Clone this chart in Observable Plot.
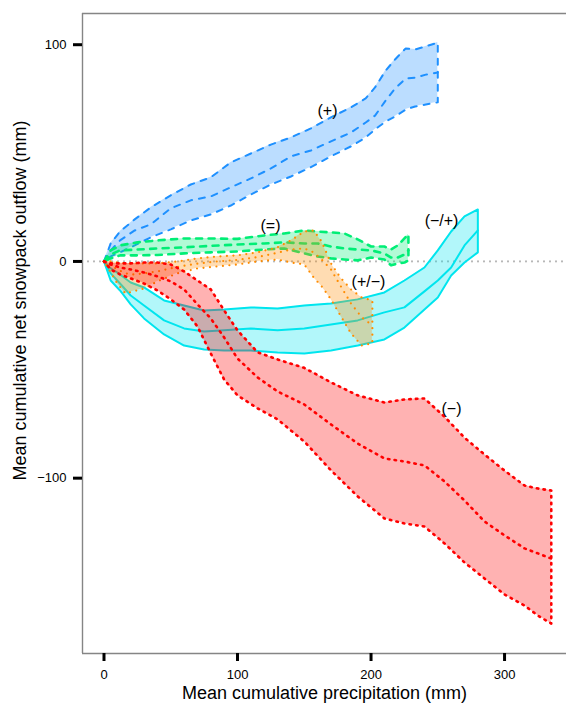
<!DOCTYPE html>
<html>
<head>
<meta charset="utf-8">
<script src="https://cdn.jsdelivr.net/npm/d3@7"></script>
<script src="https://cdn.jsdelivr.net/npm/@observablehq/plot@0.6"></script>
<style>
  html, body { margin: 0; padding: 0; background: #fff; }
</style>
</head>
<body>
<div id="chart"></div>
<script>
// Axis extents and ticks
const xDomain = [-16.1, 346.4];
const yDomain = [-180.9, 114.4];
const xTicks = [0, 100, 200, 300];
const yTicks = [-100, 0, 100];
const xTitle = "Mean cumulative precipitation (mm)";
const yTitle = "Mean cumulative net snowpack outflow (mm)";

// (+) group: cumulative precipitation, lower / mean / upper outflow
const plusX   = [0, 5, 12, 23, 35, 50, 65, 80, 95, 110, 125, 140, 155, 170, 185, 196, 203, 211, 218, 226, 233, 241, 250];
const plusHi  = [0, 8.3, 13.8, 19.4, 24.9, 30.5, 35.5, 38.8, 45.7, 49.8, 53.9, 57.2, 61.4, 66.5, 71.1, 75.2, 80.3, 88.1, 93.2, 98.3, 97.8, 99.2, 101.0];
const plusMid = [0, 5.1, 9.7, 14.3, 17.1, 24.5, 28.2, 30.0, 34.2, 38.3, 42.9, 48.5, 51.2, 55.4, 59.5, 64.1, 67.3, 74.3, 79.8, 84.4, 84.8, 86.2, 87.2];
const plusLo  = [0, 2.3, 4.2, 7.4, 11.1, 14.8, 18.9, 21.7, 25.8, 30.9, 35.5, 39.2, 43.5, 48.5, 53.1, 57.2, 60.9, 64.6, 66.9, 70.1, 71.5, 72.4, 73.4];

// (=) group
const eqX   = [0, 5, 12, 25, 40, 60, 80, 100, 120, 135, 150, 160, 170, 180, 190, 200, 210, 215, 220, 225, 228];
const eqHi  = [0, 5.1, 7.4, 8.8, 9.7, 10.6, 10.6, 10.4, 12.0, 12.9, 14.3, 13.8, 13.4, 12.9, 10.2, 6.9, 6.9, 5.5, 7.4, 10.6, 12.5];
const eqMid = [0, 3.2, 5.1, 5.5, 6.0, 6.5, 7.2, 7.8, 8.3, 8.8, 8.3, 8.3, 6.9, 6.0, 5.5, 5.1, 3.7, 1.8, 1.8, 3.2, 5.1];
const eqLo  = [0, 1.4, 2.8, 2.8, 3.0, 3.7, 4.2, 4.6, 5.5, 6.0, 3.7, 2.3, 1.4, 0.9, 0.5, 1.8, 0.9, -1.8, -0.9, -0.5, 0.5];

// (+/−) group
const pmX   = [0, 5, 10, 16, 22, 30, 40, 55, 70, 85, 100, 115, 130, 140, 150, 157, 163, 170, 177, 185, 193, 201];
const pmHi  = [0, 0, -0.5, -0.9, -0.9, -0.9, -0.9, 0, 1.4, 2.3, 2.8, 4.2, 6.5, 9.7, 13.8, 14.3, 9.2, -0.9, -7.4, -12.9, -16.6, -18.0];
const pmMid = [0, -1.8, -3.7, -5.5, -6.0, -5.5, -4.6, -2.5, -1.0, 0, 0.7, 2.0, 4.0, 5.5, 6.0, 4.2, 0.9, -3.7, -11.1, -19.4, -25.8, -29.5];
const pmLo  = [0, -5.1, -10.2, -14.8, -13.8, -12.5, -9.2, -5.5, -3.2, -2.3, -1.4, 0, 0.9, -0.5, -1.4, -7.4, -11.5, -17.5, -24.9, -33.2, -38.8, -37.8];

// (−/+) group
const mpX   = [0, 5, 12, 20, 30, 45, 60, 75, 90, 110, 130, 150, 170, 190, 210, 225, 240, 250, 260, 270, 280];
const mpHi  = [0, -3.2, -6.0, -9.7, -12.0, -18.0, -20.3, -22.6, -22.2, -21.2, -21.7, -20.3, -19.4, -17.5, -14.3, -8.8, -2.8, 5.1, 13.8, 20.8, 24.0];
const mpMid = [0, -5.5, -10.2, -15.7, -20.3, -27.2, -30.9, -32.3, -31.8, -30.9, -31.8, -30.9, -29.1, -27.2, -23.5, -21.2, -13.8, -8.8, -2.8, 7.4, 14.3];
const mpLo  = [0, -8.8, -13.4, -19.8, -26.3, -33.7, -38.8, -40.6, -41.1, -41.1, -42.0, -42.5, -41.1, -38.8, -36.0, -30.5, -22.2, -16.6, -6.5, -0.5, 4.2];

// (−) group
const mX   = [0, 5, 12, 20, 30, 40, 50, 60, 70, 80, 90, 100, 115, 130, 150, 170, 190, 210, 225, 240, 255, 270, 285, 300, 315, 325, 335];
const mHi  = [0, -0.9, -0.9, -0.9, -0.5, -0.5, -1.4, -4.6, -8.8, -12.9, -22.6, -31.8, -41.9, -45.2, -49.1, -55.8, -61.8, -65.1, -63.7, -63.2, -71.6, -81.3, -89.1, -96.5, -103.4, -104.8, -105.7];
const mMid = [0, -1.4, -2.8, -3.7, -5.1, -6.9, -9.2, -12.9, -19.8, -26.3, -35.1, -44.8, -53.5, -60.0, -66.0, -75.2, -84.0, -90.9, -92.3, -94.1, -101.5, -110.3, -120.0, -126.4, -132.4, -134.7, -137.1];
const mLo  = [0, -3.7, -6.0, -7.8, -10.2, -13.4, -17.5, -22.2, -30.0, -42.5, -54.5, -61.8, -67.8, -72.9, -83.1, -96.4, -108.4, -118.6, -120.9, -122.3, -130.1, -138.9, -146.3, -153.7, -158.8, -163.4, -167.1];

// Group labels placed beside their bands
const labelText = ["(+)", "(=)", "(+/−)", "(−/+)", "(−)"];
const labelX = [167.4, 124.7, 198.1, 252.8, 260.3];
const labelY = [69.7, 16.2, -9.2, 18.9, -67.8];

// Draw order matters: later bands sit on top of earlier ones
const groups = [
  {x: plusX, lo: plusLo, mid: plusMid, hi: plusHi, color: "#1E90FF", width: 2,   dash: "6,7"},
  {x: eqX,   lo: eqLo,   mid: eqMid,   hi: eqHi,   color: "#00EE76", width: 2.6, dash: "6,6.5"},
  {x: mpX,   lo: mpLo,   mid: mpMid,   hi: mpHi,   color: "#00E5EE", width: 2,   dash: null},
  {x: pmX,   lo: pmLo,   mid: pmMid,   hi: pmHi,   color: "#FF8C00", width: 2.2, dash: "0,6.5"},
  {x: mX,    lo: mLo,    mid: mMid,    hi: mHi,    color: "#FF0000", width: 2.6, dash: "1.5,5.2"}
];

function bandMarks(g) {
  const rows = g.x.map((x, i) => ({x, lo: g.lo[i], mid: g.mid[i], hi: g.hi[i]}));
  // closed outline: upper edge forward, then lower edge back to the start
  const outline = rows.map(d => ({x: d.x, y: d.hi}))
    .concat(rows.slice().reverse().map(d => ({x: d.x, y: d.lo})));
  const lineStyle = {
    stroke: g.color, strokeWidth: g.width, strokeLinecap: "round", strokeLinejoin: "round",
    strokeDasharray: g.dash || undefined
  };
  return [
    Plot.areaY(rows, {x: "x", y1: "lo", y2: "hi", fill: g.color, fillOpacity: 0.3}),
    Plot.line(outline, {x: "x", y: "y", ...lineStyle}),
    Plot.line(rows, {x: "x", y: "mid", ...lineStyle})
  ];
}

const labels = labelText.map((t, i) => ({t, x: labelX[i], y: labelY[i]}));
const font = "'Liberation Sans', Arial, Helvetica, sans-serif";

const chart = Plot.plot({
  width: 566,
  height: 705,
  marginLeft: 82,
  marginRight: 0,
  marginTop: 13,
  marginBottom: 52,
  style: {fontFamily: font, background: "#fff", color: "#000"},
  x: {domain: xDomain},
  y: {domain: yDomain},
  marks: [
    Plot.ruleY([0], {stroke: "#b8b8b8", strokeWidth: 2.2, strokeDasharray: "0,6", strokeLinecap: "round"}),
    ...groups.flatMap(bandMarks),
    Plot.text(labels, {x: "x", y: "y", text: "t", fontSize: 16, fill: "#000"}),
    // frame: left, top and bottom edges
    Plot.ruleX([xDomain[0]], {stroke: "#858585", strokeWidth: 1.4}),
    Plot.ruleY(yDomain, {stroke: "#858585", strokeWidth: 1.4}),
    Plot.axisX(xTicks, {anchor: "bottom", tickSize: 8, tickPadding: 8, fontSize: 13, stroke: "#000", strokeWidth: 3, label: null}),
    Plot.axisY(yTicks, {anchor: "left", tickSize: 9, tickPadding: 7, fontSize: 13, stroke: "#000", strokeWidth: 3, label: null}),
    Plot.text([xTitle], {frameAnchor: "bottom", textAnchor: "middle", lineAnchor: "middle", dy: 40, fontSize: 18, fill: "#000"}),
    Plot.text([yTitle], {frameAnchor: "left", textAnchor: "middle", lineAnchor: "middle", rotate: -90, dx: -62, dy: -33, fontSize: 18, fill: "#000"})
  ]
});

document.getElementById("chart").appendChild(chart);
</script>
</body>
</html>
